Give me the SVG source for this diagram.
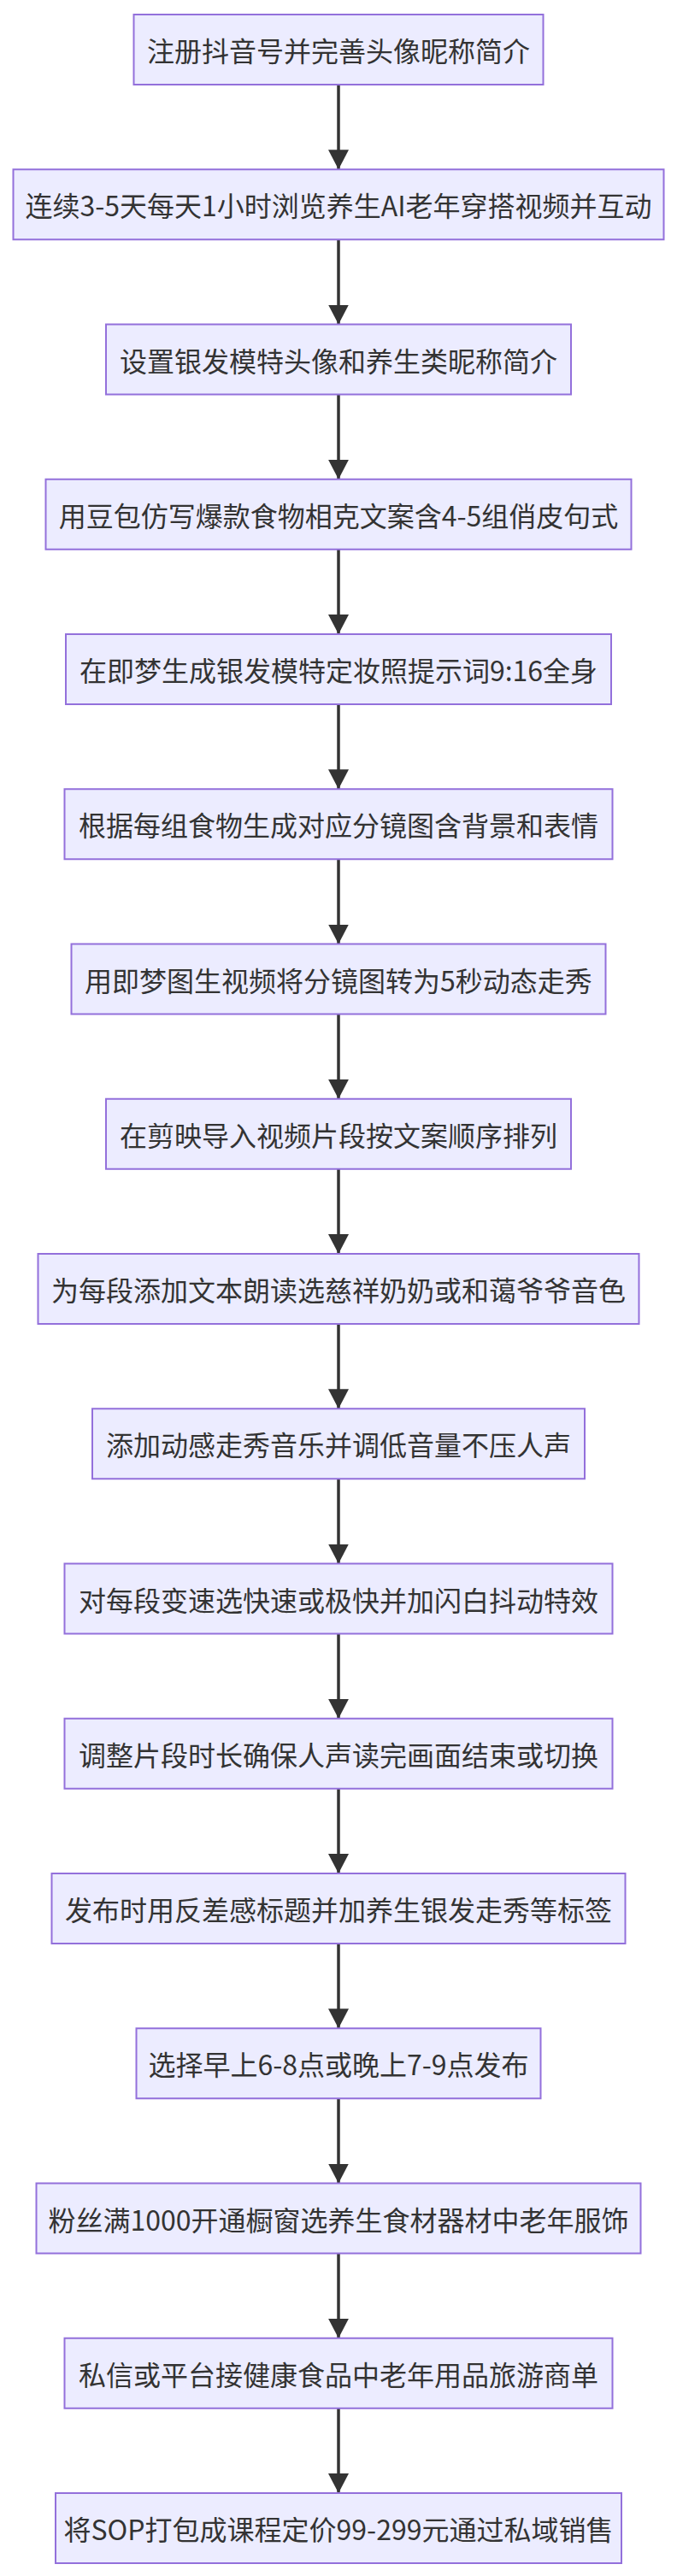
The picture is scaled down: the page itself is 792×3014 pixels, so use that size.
<svg xmlns="http://www.w3.org/2000/svg" width="792" height="3014" viewBox="0 0 792 3014">
<style>
.node rect{fill:#ECECFF;stroke:#9370DB;stroke-width:2}
.node text{fill:#333;font-family:"Noto Sans CJK SC","Noto Sans",sans-serif;font-size:32px;text-anchor:middle;dominant-baseline:central}
.edge{stroke:#333;stroke-width:3.5;fill:none}
</style>
<defs>
<marker id="arr" viewBox="0 0 23 24" refX="23" refY="12" markerWidth="23" markerHeight="24" markerUnits="userSpaceOnUse" orient="auto">
<path d="M0,0 L23,12 L0,24 z" fill="#333"/>
</marker>
</defs>
<rect width="792" height="3014" fill="#fff"/>
<g id="connectors">
<path class="edge" d="M396,99 V198.25" marker-end="url(#arr)"/>
<path class="edge" d="M396,280.25 V379.5" marker-end="url(#arr)"/>
<path class="edge" d="M396,461.5 V560.75" marker-end="url(#arr)"/>
<path class="edge" d="M396,642.75 V742" marker-end="url(#arr)"/>
<path class="edge" d="M396,824 V923.25" marker-end="url(#arr)"/>
<path class="edge" d="M396,1005.25 V1104.5" marker-end="url(#arr)"/>
<path class="edge" d="M396,1186.5 V1285.75" marker-end="url(#arr)"/>
<path class="edge" d="M396,1367.75 V1467" marker-end="url(#arr)"/>
<path class="edge" d="M396,1549 V1648.25" marker-end="url(#arr)"/>
<path class="edge" d="M396,1730.25 V1829.5" marker-end="url(#arr)"/>
<path class="edge" d="M396,1911.5 V2010.75" marker-end="url(#arr)"/>
<path class="edge" d="M396,2092.75 V2192" marker-end="url(#arr)"/>
<path class="edge" d="M396,2274 V2373.25" marker-end="url(#arr)"/>
<path class="edge" d="M396,2455.25 V2554.5" marker-end="url(#arr)"/>
<path class="edge" d="M396,2636.5 V2735.75" marker-end="url(#arr)"/>
<path class="edge" d="M396,2817.75 V2917" marker-end="url(#arr)"/>
</g>
<g id="n0" class="node"><rect x="156.5" y="17" width="479" height="82"/><text x="396" y="58">注册抖音号并完善头像昵称简介</text></g>
<g id="n1" class="node"><rect x="15.5" y="198.25" width="761" height="82"/><text x="396" y="239.25">连续3-5天每天1小时浏览养生AI老年穿搭视频并互动</text></g>
<g id="n2" class="node"><rect x="124" y="379.5" width="544" height="82"/><text x="396" y="420.5">设置银发模特头像和养生类昵称简介</text></g>
<g id="n3" class="node"><rect x="53.5" y="560.75" width="685" height="82"/><text x="396" y="601.75">用豆包仿写爆款食物相克文案含4-5组俏皮句式</text></g>
<g id="n4" class="node"><rect x="77" y="742" width="638" height="82"/><text x="396" y="783">在即梦生成银发模特定妆照提示词9:16全身</text></g>
<g id="n5" class="node"><rect x="75.5" y="923.25" width="641" height="82"/><text x="396" y="964.25">根据每组食物生成对应分镜图含背景和表情</text></g>
<g id="n6" class="node"><rect x="83.5" y="1104.5" width="625" height="82"/><text x="396" y="1145.5">用即梦图生视频将分镜图转为5秒动态走秀</text></g>
<g id="n7" class="node"><rect x="124" y="1285.75" width="544" height="82"/><text x="396" y="1326.75">在剪映导入视频片段按文案顺序排列</text></g>
<g id="n8" class="node"><rect x="44.5" y="1467" width="703" height="82"/><text x="396" y="1508">为每段添加文本朗读选慈祥奶奶或和蔼爷爷音色</text></g>
<g id="n9" class="node"><rect x="108" y="1648.25" width="576" height="82"/><text x="396" y="1689.25">添加动感走秀音乐并调低音量不压人声</text></g>
<g id="n10" class="node"><rect x="75.5" y="1829.5" width="641" height="82"/><text x="396" y="1870.5">对每段变速选快速或极快并加闪白抖动特效</text></g>
<g id="n11" class="node"><rect x="75.5" y="2010.75" width="641" height="82"/><text x="396" y="2051.75">调整片段时长确保人声读完画面结束或切换</text></g>
<g id="n12" class="node"><rect x="60.5" y="2192" width="671" height="82"/><text x="396" y="2233">发布时用反差感标题并加养生银发走秀等标签</text></g>
<g id="n13" class="node"><rect x="159.5" y="2373.25" width="473" height="82"/><text x="396" y="2414.25">选择早上6-8点或晚上7-9点发布</text></g>
<g id="n14" class="node"><rect x="42.5" y="2554.5" width="707" height="82"/><text x="396" y="2595.5">粉丝满1000开通橱窗选养生食材器材中老年服饰</text></g>
<g id="n15" class="node"><rect x="75.5" y="2735.75" width="641" height="82"/><text x="396" y="2776.75">私信或平台接健康食品中老年用品旅游商单</text></g>
<g id="n16" class="node"><rect x="65" y="2917" width="662" height="82"/><text x="396" y="2958">将SOP打包成课程定价99-299元通过私域销售</text></g>
</svg>
